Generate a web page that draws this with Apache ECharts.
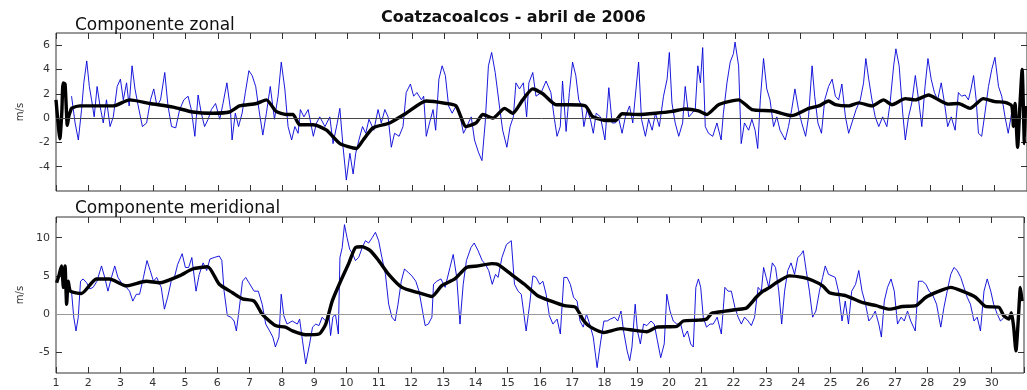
<!DOCTYPE html>
<html>
<head>
<meta charset="utf-8">
<script src="https://cdn.jsdelivr.net/npm/echarts@6/dist/echarts.min.js"></script>
<style>html,body{margin:0;padding:0;background:#fff}#c{width:1027px;height:390px}</style>
</head>
<body>
<div id="c"></div>
<script>
const chartTitle = 'Coatzacoalcos - abril de 2006';
const panelTitles = ['Componente zonal', 'Componente meridional'];
const unitLabel = 'm/s';
const dayTicks = [1,2,3,4,5,6,7,8,9,10,11,12,13,14,15,16,17,18,19,20,21,22,23,24,25,26,27,28,29,30];
const zonalTicks = [-4,-2,0,2,4,6];
const meridionalTicks = [-5,0,5,10];

// [day, m/s] hourly (blue) zonal component
const zonalHourly = [[1.48,1.8],[1.59,-0.4],[1.69,-1.8],[1.79,0.7],[1.86,2.9],[1.95,4.7],[2.03,2.6],[2.10,1.5],[2.18,0.1],[2.27,2.6],[2.36,1.0],[2.46,-0.4],[2.56,1.5],[2.67,-0.7],[2.77,0.1],[2.89,2.6],[2.99,3.2],[3.08,1.5],[3.18,2.9],[3.26,1.0],[3.35,4.3],[3.44,2.4],[3.54,1.0],[3.67,-0.7],[3.80,-0.4],[3.92,1.5],[4.02,2.4],[4.12,1.0],[4.23,1.5],[4.36,3.75],[4.46,1.0],[4.57,-0.7],[4.70,-0.8],[4.82,0.7],[4.95,1.5],[5.08,1.8],[5.18,0.7],[5.29,-1.5],[5.39,1.9],[5.49,0.4],[5.59,-0.7],[5.70,-0.1],[5.80,0.7],[5.93,1.2],[6.06,-0.1],[6.16,1.2],[6.28,2.9],[6.39,0.7],[6.44,-1.8],[6.54,0.4],[6.64,-0.7],[6.75,0.4],[6.85,2.1],[6.96,3.9],[7.06,3.5],[7.17,2.6],[7.27,0.7],[7.39,-1.4],[7.50,0.4],[7.62,2.6],[7.75,-0.1],[7.86,1.8],[7.96,4.6],
[8.07,2.4],[8.17,-0.7],[8.28,-1.8],[8.38,-0.7],[8.48,-1.25],[8.55,0.7],[8.66,0.1],[8.79,0.7],[8.95,-1.5],[9.05,-0.4],[9.15,0.1],[9.31,-0.7],[9.46,0.1],[9.56,-2.1],[9.69,-0.4],[9.77,0.8],[9.87,-2.4],[9.97,-5.1],[10.08,-2.9],[10.18,-4.6],[10.26,-2.9],[10.36,-1.8],[10.47,-0.7],[10.57,-1.25],[10.67,-0.1],[10.82,-1.0],[10.95,0.7],[11.05,-0.4],[11.16,0.7],[11.26,0.1],[11.36,-2.4],[11.46,-1.25],[11.60,-1.5],[11.72,-0.7],[11.82,2.1],[11.95,2.8],[12.05,1.8],[12.15,2.1],[12.29,1.5],[12.36,1.8],[12.44,-1.5],[12.54,-0.4],[12.65,0.7],[12.73,-1.0],[12.83,3.2],[12.93,4.3],[13.03,3.5],[13.13,1.0],[13.24,0.4],[13.36,1.0],[13.49,0.1],[13.59,-1.25],[13.69,-0.7],[13.83,0.1],[13.93,-1.8],[14.05,-2.8],[14.16,-3.5],[14.26,-0.4],[14.36,4.3],[14.46,5.4],[14.57,3.75],[14.70,1.0],[14.80,-1.0],[14.93,-2.4],[15.03,-0.7],[15.13,0.1],[15.21,2.9],[15.32,2.4],[15.44,2.9],[15.54,0.1],[15.61,2.9],[15.73,3.75],[15.83,1.8],[15.99,2.1],[16.14,3.05],[16.29,2.1],[16.40,-0.1],[16.48,-1.5],[16.58,-0.7],[16.65,3.05],[16.76,-1.1],[16.86,2.1],[16.96,4.6],[17.06,3.5],[17.15,1.5],
[17.24,1.0],[17.31,-0.7],[17.41,0.7],[17.51,-0.1],[17.60,-1.25],[17.69,0.4],[17.82,0.1],[17.96,-1.8],[18.08,2.5],[18.18,-0.4],[18.28,-0.4],[18.39,-0.1],[18.49,-1.25],[18.59,0.1],[18.72,1.0],[18.82,-0.4],[18.92,2.4],[19.00,4.6],[19.09,-0.1],[19.21,-1.5],[19.31,-0.1],[19.42,-1.0],[19.52,0.4],[19.64,-0.7],[19.77,1.8],[19.88,3.2],[19.95,5.4],[20.03,1.25],[20.13,-0.4],[20.24,-1.5],[20.36,-0.4],[20.44,2.6],[20.55,0.1],[20.65,0.4],[20.75,0.7],[20.83,4.3],[20.91,2.9],[20.98,5.8],[21.06,-0.7],[21.16,-1.25],[21.29,-1.5],[21.42,-0.4],[21.55,-1.8],[21.62,0.4],[21.73,2.9],[21.83,4.6],[21.93,5.3],[21.98,6.25],[22.09,4.3],[22.17,-2.1],[22.27,-0.4],[22.40,-1.0],[22.50,-0.1],[22.60,-1.0],[22.68,-2.5],[22.76,1.5],[22.86,4.9],[22.96,2.4],[23.06,1.5],[23.17,-0.7],[23.27,0.1],[23.37,-1.0],[23.53,-1.8],[23.63,-0.7],[23.73,0.7],[23.83,2.4],[23.94,0.7],[24.04,-0.4],[24.16,-1.5],[24.25,0.1],
[24.36,4.3],[24.44,1.8],[24.54,-0.4],[24.65,-1.25],[24.75,1.5],[24.87,2.6],[24.98,3.2],[25.08,1.8],[25.18,1.5],[25.28,2.8],[25.39,0.1],[25.49,-1.25],[25.59,-0.4],[25.72,0.7],[25.85,1.5],[25.95,2.9],[26.02,4.9],[26.11,3.2],[26.21,1.5],[26.31,0.1],[26.42,-0.7],[26.54,0.1],[26.67,-0.7],[26.77,1.25],[26.88,4.3],[26.95,5.7],[27.05,4.3],[27.16,0.4],[27.24,-1.8],[27.34,0.1],[27.44,1.25],[27.55,3.5],[27.65,1.5],[27.75,-0.7],[27.85,2.6],[27.94,4.9],[28.04,3.2],[28.14,2.1],[28.24,1.5],[28.35,2.9],[28.45,1.25],[28.55,-0.7],[28.66,0.1],[28.78,-1.0],[28.88,2.1],[28.98,1.8],[29.09,1.9],[29.19,1.5],[29.27,2.4],[29.35,3.5],[29.43,1.5],[29.50,-1.25],[29.60,-1.5],[29.70,0.4],[29.81,2.6],[29.91,4.0],[30.01,5.0],[30.12,2.6],[30.22,1.8],[30.32,0.1],[30.42,-1.25],[30.53,0.5],[30.63,-0.5]];

// [day, m/s] filtered (black) zonal component
const zonalFiltered = [[1.00,1.5],[1.05,0.0],[1.12,-1.7],[1.18,0.5],[1.22,2.9],[1.28,2.8],[1.35,-0.6],[1.40,0.2],[1.45,0.6],[1.48,0.8],[1.74,1.0],[2.36,1.0],[2.77,1.0],[3.28,1.5],[3.90,1.2],[4.62,0.9],[5.23,0.5],[5.85,0.4],[6.36,0.5],[6.67,1.0],[7.19,1.2],[7.50,1.5],[7.80,0.55],[8.11,0.3],[8.32,0.3],[8.53,-0.55],[8.95,-0.55],[9.36,-1.0],[9.77,-2.1],[10.28,-2.5],[10.49,-1.8],[10.80,-0.8],[11.31,-0.4],[11.82,0.4],[12.44,1.4],[13.06,1.2],[13.36,1.0],[13.67,-0.7],[13.98,-0.4],[14.19,0.3],[14.50,0.0],[14.86,0.8],[15.11,0.4],[15.42,1.5],[15.73,2.4],[16.04,2.0],[16.45,1.1],[16.86,1.1],[17.36,1.0],[17.57,0.15],[17.98,-0.2],[18.28,-0.2],[18.49,0.35],[19.00,0.3],[19.52,0.4],[20.03,0.55],[20.44,0.75],[20.85,0.6],[21.11,0.3],[21.47,1.1],[22.09,1.5],[22.50,0.7],[23.12,0.6],[23.73,0.2],[24.26,0.8],[24.57,1.0],[24.87,1.4],[25.08,1.1],[25.49,1.0],[25.80,1.25],[26.21,1.0],[26.57,1.5],[26.83,1.1],[27.24,1.6],[27.55,1.5],[27.96,1.9],[28.27,1.5],[28.57,1.15],[28.88,1.2],[29.24,0.8],[29.65,1.6],[30.01,1.35],[30.32,1.3],[30.53,1.0],[30.58,-0.7],[30.63,1.2],[30.71,-2.4],[30.78,1.0],[30.85,4.0],[30.92,-2.1],[30.95,1.0]];

// [day, m/s] hourly (blue) meridional component
const meridionalHourly = [[1.48,3.0],[1.55,-0.4],[1.62,-2.2],[1.69,-0.4],[1.76,4.3],[1.84,4.6],[1.95,4.1],[2.05,3.3],[2.15,3.5],[2.27,4.3],[2.41,6.3],[2.51,4.8],[2.61,3.0],[2.72,4.8],[2.82,6.3],[2.92,4.8],[3.06,3.9],[3.18,3.5],[3.28,3.0],[3.38,1.7],[3.49,2.6],[3.59,2.6],[3.71,4.8],[3.82,7.0],[3.92,5.7],[4.02,4.3],[4.12,4.8],[4.26,3.5],[4.36,0.65],[4.46,2.2],[4.57,4.3],[4.67,4.8],[4.77,6.5],[4.91,7.9],[5.01,6.1],[5.11,6.1],[5.21,7.4],[5.34,3.0],[5.44,5.2],[5.56,6.7],[5.67,5.7],[5.77,7.2],[5.90,7.4],[6.06,7.6],[6.14,7.0],[6.21,3.0],[6.31,-0.2],[6.42,-0.4],[6.52,-0.9],[6.59,-2.2],[6.67,0.4],[6.78,4.3],[6.88,4.8],[6.98,4.1],[7.14,3.0],[7.27,3.0],[7.39,1.3],[7.50,-1.3],[7.62,-2.2],[7.72,-3.0],[7.80,-4.3],[7.91,-3.0],[7.98,2.6],[8.06,-0.2],[8.16,-1.3],[8.32,-0.9],[8.38,-1.1],[8.48,-1.3],[8.55,-0.65],[8.64,-3.5],[8.74,-6.5],[8.86,-3.9],[8.95,-1.7],[9.05,-1.3],[9.15,-1.5],[9.25,-0.4],[9.36,-0.9],[9.46,-0.2],[9.51,-2.8],[9.58,-0.4],[9.66,0.0],[9.75,-2.6],[9.80,7.4],[9.87,8.7],[9.94,11.7],[10.02,10.0],[10.10,8.5],[10.20,7.8],[10.28,7.0],[10.38,7.4],[10.49,8.7],[10.59,9.6],[10.69,9.3],[10.80,10.0],[10.90,10.7],[11.00,9.6],[11.10,7.4],[11.21,5.2],[11.31,1.3],[11.41,-0.4],[11.51,-0.9],[11.60,1.3],[11.70,4.3],[11.80,5.9],[11.93,5.4],[12.03,5.0],[12.15,4.3],[12.25,3.0],[12.36,0.4],[12.44,-1.5],[12.54,-1.3],[12.65,-0.4],[12.70,3.9],[12.80,4.3],[12.93,4.6],[13.06,3.5],[13.21,6.1],[13.31,7.8],[13.42,4.8],[13.52,-1.3],[13.62,3.9],[13.72,7.0],[13.86,8.7],[13.96,9.3],[14.08,8.3],[14.21,7.0],[14.31,6.5],[14.41,5.7],[14.52,3.9],[14.62,5.2],[14.70,4.8],[14.82,7.4],[14.96,9.1],[15.11,9.6],[15.21,3.9],[15.32,3.0],[15.42,2.6],[15.57,-2.2],[15.68,1.3],[15.78,5.0],[15.88,4.8],[15.99,3.9],[16.09,4.3],[16.19,2.6],[16.29,-0.2],[16.40,-1.3],[16.53,-0.65],[16.63,-2.6],[16.74,4.8],[16.84,4.8],[16.94,3.9],[17.04,2.2],[17.15,1.7],[17.24,-0.9],[17.34,-1.7],[17.44,0.0],[17.54,-1.3],[17.65,-3.0],[17.77,-7.0],[17.87,-3.9],[17.98,-0.9],[18.08,-0.9],[18.18,-0.65],[18.31,-0.4],[18.41,-0.9],[18.51,0.4],[18.59,-2.2],[18.70,-4.8],[18.78,-6.1],[18.85,-4.3],[18.95,1.3],[19.02,-2.2],[19.11,-3.9],[19.21,-1.3],[19.31,-1.5],[19.44,-0.9],[19.54,-1.3],[19.64,-3.5],[19.74,-5.7],[19.85,-3.9],[19.93,2.6],[20.03,0.4],[20.13,-0.9],[20.24,-1.3],[20.36,-1.3],[20.46,-3.0],[20.57,-2.2],[20.67,-3.9],[20.75,-4.3],[20.83,3.5],[20.91,4.6],[20.98,3.5],[21.06,-0.4],[21.16,-1.7],[21.27,-1.3],[21.37,-1.3],[21.49,-0.4],[21.62,-2.6],[21.73,3.5],[21.83,3.0],[21.93,3.0],[22.04,0.9],[22.14,-0.4],[22.24,-1.3],[22.34,-0.4],[22.45,-0.9],[22.55,-1.5],[22.65,-0.4],[22.76,3.5],[22.86,3.0],[22.93,6.1],[23.01,4.8],[23.09,3.5],[23.20,6.7],[23.30,6.1],[23.40,3.0],[23.49,-1.3],[23.58,3.0],[23.68,5.7],[23.78,6.7],[23.89,5.2],[23.99,7.4],[24.09,7.8],[24.16,8.3],[24.25,5.7],[24.35,3.0],[24.45,-0.4],[24.55,0.4],[24.66,3.0],[24.76,4.8],[24.84,6.3],[24.94,5.2],[25.05,5.0],[25.15,4.8],[25.25,3.0],[25.36,-0.9],[25.46,1.7],[25.56,-1.3],[25.66,3.0],[25.78,3.9],[25.88,5.7],[25.98,3.0],[26.09,1.3],[26.19,-0.9],[26.29,-0.4],[26.39,0.4],[26.50,-1.3],[26.58,-3.0],[26.67,1.7],[26.77,3.5],[26.88,4.6],[26.98,3.0],[27.08,-1.3],[27.19,-0.4],[27.29,-0.9],[27.39,0.4],[27.49,-0.9],[27.63,-2.2],[27.73,4.3],[27.85,4.3],[27.96,3.9],[28.06,3.0],[28.16,2.6],[28.29,1.3],[28.42,-1.7],[28.52,0.9],[28.62,3.0],[28.73,5.2],[28.83,6.1],[28.93,5.7],[29.04,4.8],[29.14,3.5],[29.24,2.2],[29.34,1.3],[29.45,-0.9],[29.55,-0.4],[29.65,-2.2],[29.76,3.0],[29.86,4.6],[29.97,3.0],[30.06,1.3],[30.17,0.0],[30.27,-0.9],[30.37,-0.5]];

// [day, m/s] filtered (black) meridional component
const meridionalFiltered = [[1.02,4.1],[1.10,5.2],[1.17,6.3],[1.23,3.5],[1.28,6.3],[1.33,1.3],[1.38,4.3],[1.45,3.0],[1.79,2.7],[2.25,4.6],[2.66,4.6],[3.18,3.7],[3.80,4.3],[4.21,4.1],[4.82,5.0],[5.23,5.9],[5.70,6.2],[6.06,3.9],[6.47,2.8],[6.78,2.0],[7.14,1.7],[7.39,0.0],[7.80,-1.5],[8.11,-1.7],[8.33,-2.2],[8.74,-2.7],[9.15,-2.6],[9.36,-1.3],[9.56,1.7],[9.82,4.3],[10.08,6.7],[10.28,8.7],[10.49,8.8],[10.74,8.3],[11.00,7.0],[11.31,5.2],[11.72,3.5],[12.23,2.8],[12.65,2.3],[12.95,3.7],[13.36,4.6],[13.72,6.1],[14.08,6.3],[14.50,6.6],[14.70,6.5],[15.11,5.2],[15.52,3.9],[15.93,2.4],[16.35,1.7],[16.76,1.1],[17.10,0.9],[17.36,-0.9],[17.57,-1.7],[17.98,-2.4],[18.49,-1.9],[18.90,-2.1],[19.31,-2.3],[19.62,-1.7],[20.24,-1.6],[20.44,-0.9],[20.85,-0.8],[21.16,-0.65],[21.32,0.1],[21.68,0.35],[22.09,0.6],[22.40,0.8],[22.70,2.2],[22.91,3.0],[23.12,3.5],[23.32,4.1],[23.73,5.0],[24.14,4.8],[24.45,4.4],[24.76,3.7],[24.97,2.8],[25.49,2.4],[26.00,1.5],[26.42,1.1],[26.83,0.65],[27.24,1.0],[27.65,1.1],[27.96,2.2],[28.37,3.0],[28.73,3.5],[29.09,3.0],[29.50,2.2],[29.81,1.0],[30.22,0.9],[30.37,-0.2],[30.53,-0.65],[30.61,0.2],[30.68,-1.7],[30.75,-4.8],[30.82,-0.9],[30.89,3.5],[30.94,1.7]];

const AX = '#333';
const FONT = 'DejaVu Sans';
const chart = echarts.init(document.getElementById('c'), null, {renderer: 'canvas'});

function xAx(gi, pos, labels) {
  return {
    type: 'value', gridIndex: gi, position: pos, min: 1, max: 31, interval: 1,
    axisLine: {show: false, onZero: false},
    axisTick: {show: true, inside: true, length: 6, lineStyle: {color: AX}},
    axisLabel: {show: labels, color: AX, fontSize: 11, fontFamily: FONT, margin: 5,
      formatter: v => dayTicks.indexOf(v) >= 0 ? String(v) : ''},
    splitLine: {show: false}
  };
}
function yAx(gi, pos, min, max, ticks, withName) {
  return {
    type: 'value', gridIndex: gi, position: pos, min: min, max: max,
    axisLine: {show: false, onZero: false},
    axisTick: {show: true, inside: true, length: 6, lineStyle: {color: AX}, customValues: ticks},
    axisLabel: {show: pos === 'left', color: AX, fontSize: 11, fontFamily: FONT, margin: 6, customValues: ticks},
    splitLine: {show: false},
    name: withName ? unitLabel : '', nameLocation: 'middle', nameRotate: 90, nameGap: 31,
    nameTextStyle: {color: AX, fontSize: 10, fontFamily: FONT}
  };
}
function zeroLine(color) {
  return {silent: true, symbol: 'none', label: {show: false},
    lineStyle: {color: color, width: 1, type: 'solid'}, data: [{yAxis: 0}]};
}

const option = {
  animation: false,
  backgroundColor: '#fff',
  title: [
    {text: chartTitle, left: 'center', top: 5,
      textStyle: {fontFamily: FONT, fontWeight: 'bold', fontSize: 16, color: '#111'}},
    {text: panelTitles[0], left: 70, top: 12,
      textStyle: {fontFamily: FONT, fontWeight: 'normal', fontSize: 17, color: '#111'}},
    {text: panelTitles[1], left: 70, top: 195,
      textStyle: {fontFamily: FONT, fontWeight: 'normal', fontSize: 17, color: '#111'}}
  ],
  grid: [
    {left: 56, top: 33, width: 972, height: 158, show: true, borderColor: AX, borderWidth: 1, backgroundColor: 'transparent'},
    {left: 56, top: 217, width: 972, height: 156, show: true, borderColor: AX, borderWidth: 1, backgroundColor: 'transparent'}
  ],
  xAxis: [xAx(0, 'bottom', false), xAx(0, 'top', false), xAx(1, 'bottom', true), xAx(1, 'top', false)],
  yAxis: [yAx(0, 'left', -6, 7, zonalTicks, true), yAx(0, 'right', -6, 7, zonalTicks, false),
          yAx(1, 'left', -7.7, 12.7, meridionalTicks, true), yAx(1, 'right', -7.7, 12.7, meridionalTicks, false)],
  series: [
    {type: 'line', xAxisIndex: 0, yAxisIndex: 0, data: zonalHourly, showSymbol: false, z: 2,
      lineStyle: {color: '#0000d8', width: 0.9}, markLine: zeroLine('#444')},
    {type: 'line', xAxisIndex: 0, yAxisIndex: 0, data: zonalFiltered, showSymbol: false, z: 3, smooth: 0.2,
      lineStyle: {color: '#000', width: 3.4}},
    {type: 'line', xAxisIndex: 2, yAxisIndex: 2, data: meridionalHourly, showSymbol: false, z: 2,
      lineStyle: {color: '#0000d8', width: 0.9}, markLine: zeroLine('#999')},
    {type: 'line', xAxisIndex: 2, yAxisIndex: 2, data: meridionalFiltered, showSymbol: false, z: 3, smooth: 0.2,
      lineStyle: {color: '#000', width: 3.4}}
  ]
};
chart.setOption(option);
</script>
</body>
</html>
